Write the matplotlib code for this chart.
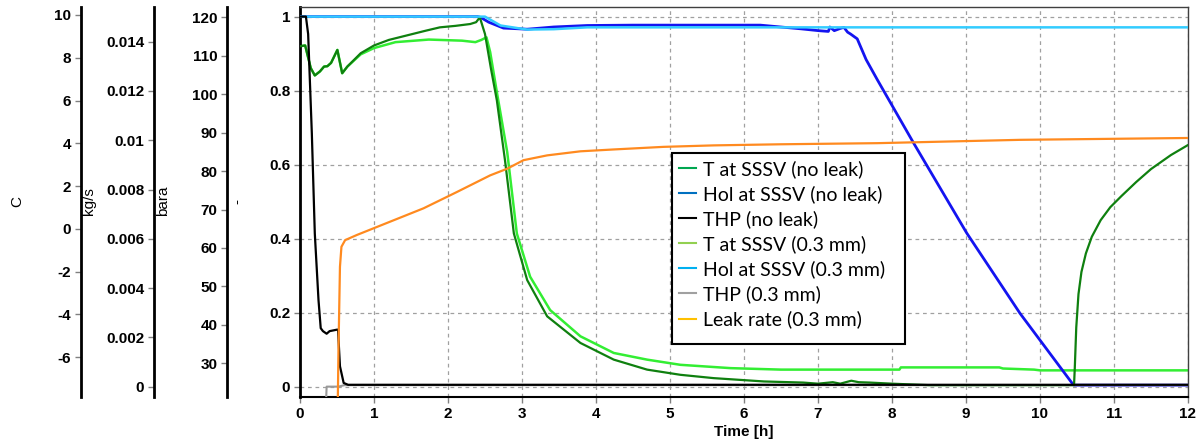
import matplotlib
matplotlib.use("Agg")
import matplotlib.pyplot as plt
from matplotlib.lines import Line2D
from matplotlib.patches import Rectangle
from matplotlib.ticker import FuncFormatter

# ---------------- data (main axis units, 0..1 scale) ----------------
t_T_noleak = [0, 0.07, 0.145, 0.2, 0.27, 0.325, 0.37, 0.42, 0.505, 0.57, 0.64, 0.82,
              1.0, 1.2, 1.44, 1.7, 1.89, 2.1, 2.30, 2.38, 2.43, 2.5, 2.58, 2.66, 2.77,
              2.89, 3.07, 3.34, 3.79, 4.24, 4.69, 5.14, 5.59, 6.27, 6.8, 7.0, 7.2, 7.3,
              7.45, 7.55, 7.7, 8.0, 8.5, 9.0, 10.0, 10.46, 10.47, 10.49, 10.52, 10.56,
              10.62, 10.7, 10.82, 10.95, 11.1, 11.3, 11.5, 11.77, 12.0]
v_T_noleak = [0.92, 0.922, 0.861, 0.841, 0.852, 0.865, 0.866, 0.875, 0.91, 0.847, 0.865, 0.901,
              0.922, 0.937, 0.949, 0.962, 0.971, 0.975, 0.98, 0.985, 0.998, 0.953, 0.86, 0.774, 0.612,
              0.414, 0.288, 0.19, 0.118, 0.073, 0.046, 0.032, 0.023, 0.014, 0.011, 0.008, 0.012, 0.008,
              0.016, 0.012, 0.011, 0.008, 0.004, 0.004, 0.004, 0.004, 0.05, 0.16, 0.25, 0.31,
              0.36, 0.405, 0.45, 0.485, 0.515, 0.553, 0.588, 0.626, 0.653]

t_T_03 = [0, 0.07, 0.145, 0.2, 0.27, 0.325, 0.37, 0.42, 0.505, 0.57, 0.64, 0.82,
          1.0, 1.29, 1.74, 2.19, 2.37, 2.45, 2.52, 2.57, 2.66, 2.80, 2.93, 3.11, 3.38,
          3.79, 4.24, 4.69, 5.14, 5.82, 6.5, 8.1, 8.12, 9.45, 9.5, 9.92, 10.0, 12.0]
v_T_03 = [0.92, 0.922, 0.861, 0.841, 0.852, 0.865, 0.866, 0.875, 0.91, 0.847, 0.865, 0.898,
          0.915, 0.931, 0.938, 0.935, 0.931, 0.937, 0.944, 0.904, 0.796, 0.634, 0.414, 0.297, 0.207,
          0.136, 0.091, 0.073, 0.059, 0.05, 0.046, 0.046, 0.052, 0.052, 0.049, 0.046, 0.044, 0.044]

t_Hol_noleak = [0, 2.40, 2.44, 2.55, 2.75, 3.07, 3.43, 3.88, 4.5, 5.5, 6.22, 6.77, 7.01,
                7.14, 7.16, 7.22, 7.3, 7.35, 7.4, 7.44, 7.53, 7.65, 7.80, 8.29, 9.01, 9.73,
                10.45, 10.47, 12.0]
v_Hol_noleak = [1.0, 1.0, 0.998, 0.985, 0.969, 0.966, 0.972, 0.976, 0.977, 0.977, 0.977, 0.967, 0.962,
                0.96, 0.972, 0.962, 0.968, 0.971, 0.958, 0.953, 0.94, 0.884, 0.83, 0.659, 0.415, 0.198,
                0.005, 0.004, 0.004]

t_Hol_03 = [0, 2.50, 2.71, 3.07, 3.43, 3.88, 12.0]
v_Hol_03 = [1.0, 1.0, 0.976, 0.965, 0.966, 0.971, 0.971]

t_THP_noleak = [0, 0.08, 0.11, 0.16, 0.2, 0.25, 0.28, 0.31, 0.36, 0.40, 0.5, 0.515,
                0.52, 0.54, 0.59, 0.65, 12.0]
v_THP_noleak = [1.0, 1.0, 0.953, 0.684, 0.414, 0.234, 0.158, 0.15, 0.143, 0.15, 0.154, 0.154,
                0.13, 0.055, 0.01, 0.005, 0.005]

t_THP_03 = [0, 0.35, 0.36, 0.52, 0.6, 12.0]
v_THP_03 = [-0.05, -0.05, 0.0, 0.0, 0.004, 0.004]

t_leak = [0, 0.51, 0.52, 0.54, 0.56, 0.61, 0.77, 1.22, 1.67, 2.12, 2.57, 2.8, 3.02,
          3.34, 3.79, 4.24, 4.91, 5.59, 6.5, 7.8, 9.73, 12.0]
v_leak = [-0.05, -0.05, 0.1, 0.324, 0.378, 0.396, 0.41, 0.446, 0.482, 0.526, 0.571, 0.589, 0.612,
          0.625, 0.636, 0.641, 0.648, 0.652, 0.655, 0.658, 0.667, 0.672]

labels = ["T at SSSV (no leak)", "Hol at SSSV (no leak)", "THP (no leak)",
          "T at SSSV (0.3 mm)", "Hol at SSSV (0.3 mm)", "THP (0.3 mm)", "Leak rate (0.3 mm)"]

x_ticks = list(range(0, 13))
main_ticks = [0, 0.2, 0.4, 0.6, 0.8, 1.0]
c_ticks = [-6, -4, -2, 0, 2, 4, 6, 8, 10]
kgs_ticks = [0, 0.002, 0.004, 0.006, 0.008, 0.01, 0.012, 0.014]
bara_ticks = [30, 40, 50, 60, 70, 80, 90, 100, 110, 120]

# ---------------- figure ----------------
W, H = 1201, 441
fig = plt.figure(figsize=(W / 100, H / 100), dpi=100)
plt.rcParams['font.family'] = ['Liberation Sans', 'DejaVu Sans']

def fx(px):
    return px / W

def fy(py):
    return 1 - py / H

top_px, bot_px = 7, 397
ax_b = fy(bot_px)
ax_h = (bot_px - top_px) / H
TICK_FS = 11

ax = fig.add_axes([fx(300), ax_b, fx(1188) - fx(300), ax_h])
ax.set_xlim(0, 12)
ax.set_ylim(-0.028, 1.026)

col_dg = '#0f800f'
col_lg = '#33ee33'
col_bl = '#1414f0'
col_cy = '#33ccff'
col_bk = '#000000'
col_gr = '#999999'
col_or = '#ff8a1f'

ax.plot(t_T_03, v_T_03, color=col_lg, lw=1.8, zorder=2)
ax.plot(t_Hol_noleak, v_Hol_noleak, color=col_bl, lw=2.0, zorder=3)
ax.plot(t_THP_03, v_THP_03, color=col_gr, lw=1.5, zorder=3)
ax.plot(t_T_noleak, v_T_noleak, color=col_dg, lw=1.6, zorder=4)
ax.plot(t_Hol_03, v_Hol_03, color=col_cy, lw=1.8, zorder=4)
ax.plot(t_THP_noleak, v_THP_noleak, color=col_bk, lw=1.6, zorder=5)
ax.plot(t_leak, v_leak, color=col_or, lw=1.6, zorder=6)

ax.set_xticks(x_ticks)
ax.set_yticks(main_ticks)
ax.yaxis.set_major_formatter(FuncFormatter(lambda v, p: f"{v:g}"))
ax.grid(True, color='#a0a0a0', linestyle=(0, (3, 3)), lw=0.9)
ax.set_axisbelow(True)
ax.tick_params(axis='both', direction='out', length=4, width=1, color='#808080',
               labelsize=TICK_FS, pad=3)
for lab in ax.get_xticklabels() + ax.get_yticklabels():
    lab.set_fontweight('bold')
for s in ['top', 'right']:
    ax.spines[s].set_color('#404040')
    ax.spines[s].set_linewidth(1)
ax.spines['left'].set_linewidth(2)
ax.spines['bottom'].set_linewidth(1.5)
ax.set_xlabel("Time [h]", fontsize=TICK_FS, fontweight='bold', labelpad=3)

# extra y axes
def extra_axis(xpx, ylim, ticks, fmt):
    a = fig.add_axes([fx(xpx), ax_b, 1e-5, ax_h])
    a.patch.set_visible(False)
    for s in ['top', 'right', 'bottom']:
        a.spines[s].set_visible(False)
    a.spines['left'].set_linewidth(2)
    a.set_ylim(*ylim)
    a.set_xticks([])
    a.set_yticks(ticks)
    a.yaxis.set_major_formatter(FuncFormatter(fmt))
    a.tick_params(axis='y', direction='out', length=4, width=1, color='#808080',
                  labelsize=TICK_FS, pad=3)
    for lab in a.get_yticklabels():
        lab.set_fontweight('bold')
    return a

extra_axis(81, (-7.87, 10.374), c_ticks, lambda v, p: f"{v:g}")
extra_axis(154, (-0.000418, 0.015408), kgs_ticks, lambda v, p: f"{v:g}")
extra_axis(227, (21.23, 122.68), bara_ticks, lambda v, p: f"{v:g}")

for txt, xp in [("C", 17), ("kg/s", 89), ("bara", 163), ("-", 237)]:
    fig.text(fx(xp), fy(201), txt, rotation=90, ha='center', va='center', fontsize=11)

# legend box (drawn separately to match the reference's padding)
box = Rectangle((fx(672), fy(344)), fx(905) - fx(672), fy(153) - fy(344),
                transform=fig.transFigure, facecolor='white', edgecolor='black',
                lw=1.5, zorder=9, clip_on=False)
ax.add_artist(box)

handles = [Line2D([], [], color=c, lw=1.5) for c in
           ['#00a650', '#0070c0', '#000000', '#92d050', '#00b0f0', '#a0a0a0', '#ffc000']]
leg = ax.legend(handles, labels, loc='upper left',
                bbox_to_anchor=(fx(672), fy(153)), bbox_transform=fig.transFigure,
                prop={'family': 'Lato', 'size': 14}, frameon=False,
                borderaxespad=0, borderpad=0.35,
                labelspacing=0.37, handlelength=0.9, handletextpad=0.35)
leg.set_zorder(10)

fig.savefig("out.png", dpi=100)
